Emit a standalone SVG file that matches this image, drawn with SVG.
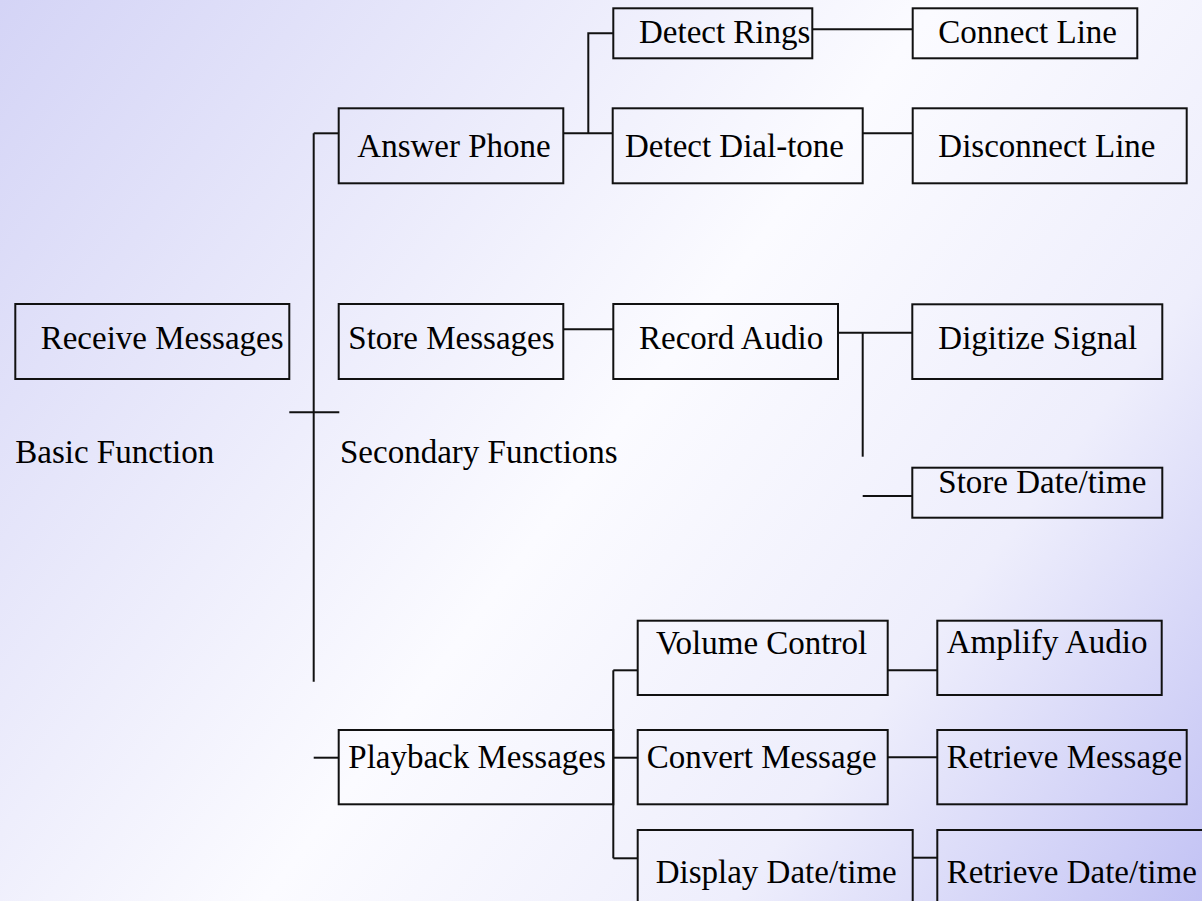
<svg xmlns="http://www.w3.org/2000/svg" width="1202" height="901" viewBox="0 0 1202 901">
  <defs>
    <linearGradient id="bg" x1="0" y1="0" x2="1202" y2="901" gradientUnits="userSpaceOnUse">
      <stop offset="0" stop-color="#d4d4f6"/>
      <stop offset="0.5" stop-color="#fbfbff"/>
      <stop offset="0.75" stop-color="#eeeefc"/>
      <stop offset="1" stop-color="#c2c2f4"/>
    </linearGradient>
    <style>
      .box { fill: none; stroke: #111; stroke-width: 2; }
      .lbl { font-family: "Liberation Serif", "Times New Roman", serif; font-size: 33px; fill: #000; }
      #connectors path { fill: none; stroke: #111; stroke-width: 2; }
    </style>
  </defs>

  <rect x="0" y="0" width="1202" height="901" fill="url(#bg)"/>

  <!-- connectors -->
  <g id="connectors">
    <!-- main trunk and its crossbar -->
    <path d="M313.7 133.3 V681.7"/>
    <path d="M313.7 133.3 H338.7"/>
    <path d="M289.3 412.3 H339.3"/>
    <path d="M313.7 757.7 H338.7"/>
    <!-- answer phone branch -->
    <path d="M563.3 133.3 H612.7"/>
    <path d="M588.3 133.3 V33.3 H613.3"/>
    <path d="M812.3 29.3 H912.7"/>
    <path d="M862.7 133.3 H912.7"/>
    <!-- store messages branch -->
    <path d="M563.3 329.3 H613.3"/>
    <path d="M838 332.7 H912.3"/>
    <path d="M862.7 332.7 V456.7"/>
    <path d="M862.7 496 H912.3"/>
    <!-- playback branch -->
    <path d="M613.3 670.3 V858.3"/>
    <path d="M613.3 670.3 H637.7"/>
    <path d="M613.3 757.7 H637.7"/>
    <path d="M613.3 858.3 H637.7"/>
    <path d="M887.7 670.3 H937.3"/>
    <path d="M887.7 757.3 H937.3"/>
    <path d="M912.7 857.7 H937.3"/>
  </g>

  <g id="receive-messages">
    <rect class="box" x="15.3" y="304" width="274" height="75"/>
    <text class="lbl" x="40.7" y="349.3">Receive Messages</text>
  </g>

  <g id="basic-function">
    <text class="lbl" x="15.3" y="463.3">Basic Function</text>
  </g>

  <g id="secondary-functions">
    <text class="lbl" x="340" y="463.3">Secondary Functions</text>
  </g>

  <g id="answer-phone">
    <rect class="box" x="338.7" y="108.3" width="224.6" height="75"/>
    <text class="lbl" x="357.3" y="156.7">Answer Phone</text>
  </g>

  <g id="detect-rings">
    <rect class="box" x="613.3" y="8.3" width="199" height="50"/>
    <text class="lbl" x="639" y="43.3">Detect Rings</text>
  </g>

  <g id="connect-line">
    <rect class="box" x="912.7" y="8.3" width="224.6" height="50"/>
    <text class="lbl" x="938.3" y="43.3">Connect Line</text>
  </g>

  <g id="detect-dial-tone">
    <rect class="box" x="612.7" y="108.3" width="250" height="75"/>
    <text class="lbl" x="625" y="156.7">Detect Dial-tone</text>
  </g>

  <g id="disconnect-line">
    <rect class="box" x="912.7" y="108.3" width="274" height="75"/>
    <text class="lbl" x="938.3" y="156.7">Disconnect Line</text>
  </g>

  <g id="store-messages">
    <rect class="box" x="338.7" y="304" width="224.6" height="75"/>
    <text class="lbl" x="348.3" y="349.3">Store Messages</text>
  </g>

  <g id="record-audio">
    <rect class="box" x="613.3" y="304" width="224.7" height="75"/>
    <text class="lbl" x="639" y="349.3">Record Audio</text>
  </g>

  <g id="digitize-signal">
    <rect class="box" x="912.3" y="304.3" width="250" height="74.7"/>
    <text class="lbl" x="938.3" y="349.3">Digitize Signal</text>
  </g>

  <g id="store-date-time">
    <rect class="box" x="912.3" y="467.7" width="250" height="50"/>
    <text class="lbl" x="938.3" y="493.3">Store Date/time</text>
  </g>

  <g id="playback-messages">
    <rect class="box" x="338.7" y="730" width="274.6" height="74.3"/>
    <text class="lbl" x="348.3" y="768.3">Playback Messages</text>
  </g>

  <g id="volume-control">
    <rect class="box" x="637.7" y="620.7" width="250" height="74.3"/>
    <text class="lbl" x="656" y="654">Volume Control</text>
  </g>

  <g id="amplify-audio">
    <rect class="box" x="937.3" y="620.7" width="224.4" height="74.3"/>
    <text class="lbl" x="946.7" y="653.3">Amplify Audio</text>
  </g>

  <g id="convert-message">
    <rect class="box" x="637.7" y="730" width="250" height="74.3"/>
    <text class="lbl" x="646.7" y="768.3">Convert Message</text>
  </g>

  <g id="retrieve-message">
    <rect class="box" x="937.3" y="730" width="249.4" height="74.3"/>
    <text class="lbl" x="946.7" y="768.3">Retrieve Message</text>
  </g>

  <g id="display-date-time">
    <rect class="box" x="637.7" y="830" width="275" height="80"/>
    <text class="lbl" x="655.7" y="883">Display Date/time</text>
  </g>

  <g id="retrieve-date-time">
    <rect class="box" x="937.3" y="830" width="280" height="80"/>
    <text class="lbl" x="946.7" y="883">Retrieve Date/time</text>
  </g>
</svg>
